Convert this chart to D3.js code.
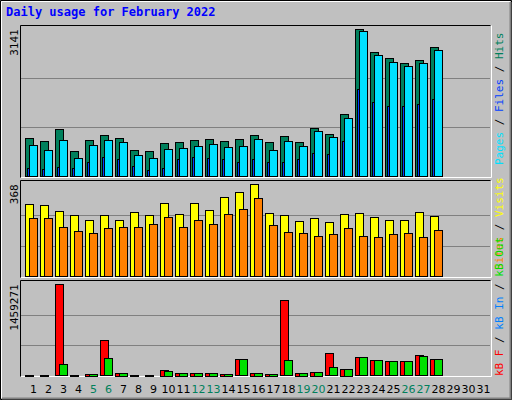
<!DOCTYPE html>
<html><head><meta charset="utf-8">
<script src="https://cdn.jsdelivr.net/npm/d3@7"></script>
<style>body{margin:0;background:#fff}</style>
</head><body>
<svg id="chart" width="512" height="400"></svg>
<script>
// values
var days = d3.range(1, 32);
var weekend = [5, 6, 12, 13, 19, 20, 26, 27];
var hits = [817,753,1009,540,775,881,817,561,540,711,732,775,796,753,796,881,732,860,732,1030,902,1329,3141,2651,2523,2416,2480,2757];
var files = [668,561,775,391,668,775,732,455,391,583,604,647,689,625,647,796,561,753,647,966,839,1244,3098,2587,2438,2352,2416,2693];
var pages = [178,156,199,178,306,412,370,220,135,178,370,412,391,370,306,370,306,306,370,497,476,753,1862,1585,1499,1499,1542,1649];
var visits = [288,284,260,244,224,244,224,256,244,292,248,292,264,316,336,368,252,244,220,232,216,248,252,236,224,224,256,240];
var sites = [232,232,196,180,172,192,196,196,208,236,196,224,208,248,268,312,204,176,172,160,168,192,160,156,168,172,156,184];
var kbF = [16000,16000,1459271,16000,32000,561000,48000,16000,16000,96000,48000,48000,48000,32000,256600,48000,32000,1202700,48000,64000,352800,112000,288600,240500,224500,224500,320700,256600];
var kbOut = [0,0,176400,0,32000,272600,48000,0,0,80000,48000,48000,48000,32000,256600,48000,32000,240500,48000,64000,128300,112000,288600,240500,224500,224500,304700,256600];
var kbIn = [0,0,8000,0,0,8000,0,0,0,8000,0,0,0,0,8000,0,0,8000,0,0,8000,0,8000,0,0,0,8000,0];

var svg = d3.select('#chart');
var mono = "'DejaVu Sans Mono', monospace";

svg.append('rect').attr('x',0).attr('y',0).attr('width',512).attr('height',400).attr('fill','#c0c0c0');
// outer bevel
svg.append('path').attr('d','M0.5,399.5V0.5H511.5V399.5Z').attr('fill','none').attr('stroke','#000');
svg.append('path').attr('d','M1.5,398V1.5H510').attr('fill','none').attr('stroke','#fff');
svg.append('path').attr('d','M2,398.5H510.5V2').attr('fill','none').attr('stroke','#808080').attr('stroke-width',2);

svg.append('text').attr('x',6).attr('y',16).attr('font-family',mono).attr('font-weight','bold')
  .attr('font-size',12).attr('fill','#0000ff').text('Daily usage for February 2022');

var x = d3.scaleLinear().domain([1, 32]).range([25, 490]);

var panels = [
  {top:25, bottom:177, max:3141, label:'3141', maxY:29.3},
  {top:180, bottom:277, max:368, label:'368', maxY:184.3},
  {top:280, bottom:376, max:1459271, label:'1459271', maxY:284.3}
];

panels.forEach(function(p){
  svg.append('rect').attr('x',20.5).attr('y',p.top+0.5).attr('width',470).attr('height',p.bottom-p.top)
    .attr('fill','#c0c0c0');
  svg.append('path').attr('d','M20.5,'+(p.bottom+0.5)+'V'+(p.top+0.5)+'H490.5').attr('fill','none').attr('stroke','#000');
  svg.append('path').attr('d','M21,'+(p.bottom+0.5)+'H491.5V'+(p.top+0.5)).attr('fill','none').attr('stroke','#fff');
  var base = p.bottom - 0.5;
  p.y = d3.scaleLinear().domain([0, p.max]).range([base, p.maxY]);
  var h = base - p.maxY;
  [h/3, 2*h/3].forEach(function(g){
    svg.append('line').attr('x1',21).attr('x2',490).attr('y1',Math.round(base-g)+0.5).attr('y2',Math.round(base-g)+0.5)
      .attr('stroke','#808080');
  });
  svg.append('text').attr('transform','translate(18,'+(p.maxY)+') rotate(-90)').attr('text-anchor','end')
    .attr('font-family',mono).attr('font-size',11).attr('fill','#000').text(p.label);
});

function bars(panel, data, dx, w, color){
  svg.append('g').selectAll('rect').data(data).join('rect')
    .attr('x', function(d,i){ return x(i+1) + dx + 0.5; })
    .attr('y', function(d){ return Math.round(panel.y(d)) + 0.5; })
    .attr('width', w)
    .attr('height', function(d){ return Math.max(0, Math.round(panel.y(0) - panel.y(d))); })
    .attr('fill', color).attr('stroke','#000').attr('stroke-width',1);
}

bars(panels[0], hits, 0, 8, '#00805c');
bars(panels[0], files, 4, 8, '#00e0ff');
bars(panels[0], pages, 2, 2, '#0040ff');
bars(panels[1], visits, 0, 8, '#ffff00');
bars(panels[1], sites, 4, 8, '#ff8000');
bars(panels[2], kbF, 0, 8, '#ff0000');
bars(panels[2], kbOut, 4, 8, '#00e000');
bars(panels[2], kbIn, 2, 1, '#0080ff');

// right legends
function legend(yEnd, parts){
  var t = svg.append('text').attr('transform','translate(503,'+yEnd+') rotate(-90)')
    .attr('font-family',mono).attr('font-size',11);
  parts.forEach(function(pt){ t.append('tspan').attr('fill',pt[1]).text(pt[0]); });
}
legend(165, [['Pages','#00e0ff'],[' / ','#000'],['Files','#0040ff'],[' / ','#000'],['Hits','#00805c']]);
legend(270, [['Sites','#ff8000'],[' / ','#000'],['Visits','#ffff00']]);
legend(376, [['kB F','#ff0000'],[' / ','#000'],['kB In','#0080ff'],[' / ','#000'],['kB Out','#00e000']]);

// day axis
var xAxis = d3.axisBottom(x).tickValues(days).tickSize(0).tickFormat(d3.format('d'));
var ax = svg.append('g').attr('transform','translate(8,382)').call(xAxis);
ax.select('.domain').remove();
ax.selectAll('text').attr('font-family',"'DejaVu Sans', sans-serif").attr('font-size',11)
  .attr('fill', function(d){ return weekend.indexOf(d) >= 0 ? '#00805c' : '#000'; });
</script>
</body></html>
